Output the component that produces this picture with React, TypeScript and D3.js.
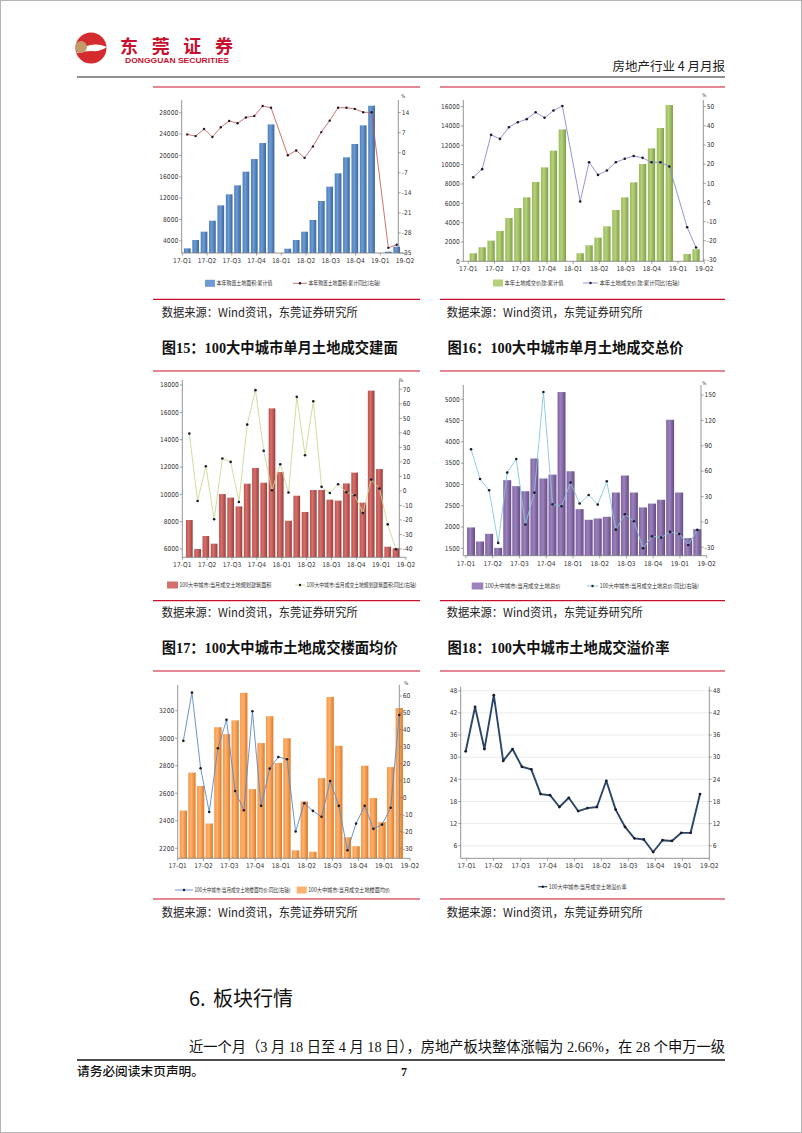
import React from "react";
import * as d3 from "d3";

const W = 802;
const H = 1133;

// months Feb-2017 .. Mar-2019 (Jan values are reported together with Feb)
const months = [
  "2017-02", "2017-03", "2017-04", "2017-05", "2017-06", "2017-07", "2017-08", "2017-09", "2017-10", "2017-11", "2017-12",
  "2018-01", "2018-02", "2018-03", "2018-04", "2018-05", "2018-06", "2018-07", "2018-08", "2018-09", "2018-10", "2018-11", "2018-12",
  "2019-01", "2019-02", "2019-03",
];
const quarterLabels = ["17-Q1", "17-Q2", "17-Q3", "17-Q4", "18-Q1", "18-Q2", "18-Q3", "18-Q4", "19-Q1", "19-Q2"];

// chart A: land purchase area, cumulative (万平方米) and cumulative yoy (%)
const landAreaCum = [2560, 4130, 5690, 7750, 10620, 12690, 14380, 16940, 19310, 22310, 25810, null,
  2500, 4130, 5690, 7880, 11440, 14130, 16630, 19630, 22130, 25630, 29310, null, 1940, 2880];
const landAreaCumYoY = [6.4, 5.8, 8.3, 5.5, 8.9, 11.1, 10.3, 12.3, 12.8, 16.3, 15.7, null,
  -0.9, 0.8, -1.8, 2.2, 7.2, 11.2, 15.7, 15.7, 15.3, 14.1, 14.1, null, -33.2, -32.1];

// chart B: land transaction value, cumulative (亿元) and yoy (%)
const landValueCum = [830, 1450, 2140, 3140, 4480, 5520, 6620, 8210, 9720, 11450, 13650, null,
  830, 1660, 2450, 3620, 5310, 6620, 8170, 10070, 11690, 13790, 16170, null, 760, 1240];
const landValueCumYoY = [13.2, 17.4, 35.3, 33.2, 39.3, 41.9, 43.5, 47.1, 44.2, 48.0, 50.4, null,
  0.5, 21.0, 14.4, 16.7, 21.0, 22.8, 24.3, 23.3, 21.0, 21.0, 18.8, null, -12.9, -23.5];

// chart 15: 100 cities planned floor area and yoy
const plannedArea = [8120, 6000, 6950, 6390, 10020, 9760, 9120, 10780, 11930, 10850, 16290, 11630,
  8070, 9900, 8710, 10320, 10320, 9610, 9540, 10800, 11590, 9390, 17590, 11850, 6170, 6050];
const plannedAreaYoY = [39.5, -6.9, 17.0, -19.5, 22.3, 20.0, -7.6, 45.7, 69.4, 27.6, 0.5, 18.4,
  -1.1, 64.8, 24.6, 61.8, 2.8, -1.4, 4.6, -0.9, -3.0, -15.2, 7.8, 1.6, -23.0, -40.2];

// chart 16: 100 cities total land price and yoy
const totalPrice = [1990, 1660, 1840, 1510, 3100, 2960, 2840, 3610, 3140, 3230, 5170, 3310,
  2420, 2170, 2200, 2240, 2810, 3210, 2810, 2460, 2550, 2640, 4520, 2810, 1740, 1950];
const totalPriceYoY = [85.8, 50.8, 37.4, -24.8, 58.3, 74.4, -3.1, 34.6, 153.5, 20.9, 18.5, 46.5,
  21.7, 31.9, 20.5, 48.0, -9.1, 9.1, 0.8, -31.1, -16.9, -18.5, -11.8, -14.2, -27.2, -9.4];

// chart 17: 100 cities floor price and yoy
const floorPrice = [2474, 2750, 2653, 2380, 3080, 3030, 3130, 3330, 2630, 2965, 3160, 2820,
  3000, 2185, 2540, 2175, 2710, 3300, 2945, 2280, 2215, 2800, 2565, 2390, 2790, 3220];
const floorPriceYoY = [33.5, 62.0, 17.3, -8.5, 29.1, 45.9, 3.9, -7.5, 51.0, -4.9, 17.1, 24.0,
  22.6, -20.1, -3.3, -7.9, -11.4, 9.8, -4.9, -31.1, -15.4, -4.9, -18.5, -16.0, -6.0, 48.8];

// chart 18: 100 cities land premium rate (%)
const premiumRate = [31.6, 43.6, 32.2, 46.8, 29.0, 32.2, 27.4, 26.7, 20.0, 19.7, 16.5, 19.0,
  15.4, 16.2, 16.5, 23.6, 15.8, 11.1, 8.0, 7.7, 4.3, 7.5, 7.3, 9.5, 9.5, 20.0];

const AX_FONT = "'Liberation Sans Narrow','DejaVu Sans Condensed','Liberation Sans',sans-serif";
const CJK = "'Noto Sans CJK SC','Noto Sans',sans-serif";
const SERIF_CJK = "'Liberation Serif','Noto Sans CJK SC',serif";
const RED = "#c8102e";

type Legend = { kind: "bar" | "line"; x: number; sw: number; text: string; width: number };

type Spec = {
  id: string;
  axisL: number; axisR: number; top: number; bottom: number;
  bandL: number; bandR: number; pad: number;
  labelL: number; labelR: number;
  leftDomain: [number, number]; leftTicks: number[];
  rightDomain: [number, number]; rightTicks: number[];
  bars?: (number | null)[]; barColors?: [string, string, string];
  line: (number | null)[]; lineColor: string; lineWidth: number; lineAxis: "left" | "right";
  marker: number;
  percent?: [number, number];
  grid?: boolean;
  legendY: number; legend: Legend[];
};

function Combo({ s }: { s: Spec }) {
  const idx = d3.range(months.length);
  const x = d3.scaleBand<number>().domain(idx).range([s.bandL, s.bandR]).paddingInner(s.pad).paddingOuter(s.pad / 2);
  const cx = (i: number) => (x(i) ?? 0) + x.bandwidth() / 2;
  const q = d3.scalePoint<string>().domain(quarterLabels).range([s.labelL, s.labelR]);
  const yL = d3.scaleLinear().domain(s.leftDomain).range([s.bottom, s.top]);
  const yR = d3.scaleLinear().domain(s.rightDomain).range([s.bottom, s.top]);
  const yLine = s.lineAxis === "left" ? yL : yR;
  const pts = idx
    .filter((i) => s.line[i] != null)
    .map((i) => [cx(i), yLine(s.line[i] as number)] as [number, number]);
  const path = d3.line()(pts) ?? "";
  const gid = `grad-${s.id}`;
  const axisColor = "#7a7a7a";

  return (
    <g>
      {s.barColors && (
        <defs>
          <linearGradient id={gid} x1="0" x2="1" y1="0" y2="0">
            <stop offset="0" stopColor={s.barColors[0]} />
            <stop offset="0.4" stopColor={s.barColors[1]} />
            <stop offset="1" stopColor={s.barColors[2]} />
          </linearGradient>
        </defs>
      )}
      {s.grid &&
        s.leftTicks.map((t) => (
          <line key={`g${t}`} x1={s.axisL} x2={s.axisR} y1={yL(t)} y2={yL(t)} stroke="#e6e6e6" strokeWidth={0.8} />
        ))}
      {s.bars &&
        idx.map((i) =>
          s.bars![i] == null ? null : (
            <rect
              key={`b${i}`}
              x={x(i)}
              width={x.bandwidth()}
              y={yL(s.bars![i] as number)}
              height={s.bottom - yL(s.bars![i] as number)}
              fill={`url(#${gid})`}
            />
          )
        )}
      {/* left axis */}
      <line x1={s.axisL} x2={s.axisL} y1={s.top} y2={s.bottom} stroke={axisColor} strokeWidth={0.8} />
      {s.leftTicks.map((t) => (
        <g key={`l${t}`}>
          <line x1={s.axisL - 2.5} x2={s.axisL} y1={yL(t)} y2={yL(t)} stroke={axisColor} strokeWidth={0.7} />
          <text x={s.axisL - 3.5} y={yL(t) + 2.3} fontSize={6.6} textAnchor="end" fontFamily={AX_FONT} fill="#333">
            {t}
          </text>
        </g>
      ))}
      {/* right axis */}
      <line x1={s.axisR} x2={s.axisR} y1={s.top} y2={s.bottom} stroke={axisColor} strokeWidth={0.8} />
      {s.rightTicks.map((t) => (
        <g key={`r${t}`}>
          <line x1={s.axisR} x2={s.axisR + 2.5} y1={yR(t)} y2={yR(t)} stroke={axisColor} strokeWidth={0.7} />
          <text x={s.axisR + 3.5} y={yR(t) + 2.3} fontSize={6.6} textAnchor="start" fontFamily={AX_FONT} fill="#333">
            {t}
          </text>
        </g>
      ))}
      {s.percent && (
        <text x={s.percent[0]} y={s.percent[1]} fontSize={5} fontFamily={AX_FONT} fill="#444">
          %
        </text>
      )}
      {/* bottom axis */}
      <line x1={s.axisL} x2={Math.max(s.axisR, s.labelR)} y1={s.bottom} y2={s.bottom} stroke={axisColor} strokeWidth={0.8} />
      {quarterLabels.map((lab) => (
        <g key={lab}>
          <line x1={q(lab)} x2={q(lab)} y1={s.bottom} y2={s.bottom + 2.5} stroke={axisColor} strokeWidth={0.7} />
          <text x={q(lab)} y={s.bottom + 10} fontSize={6.6} textAnchor="middle" fontFamily={AX_FONT} fill="#333">
            {lab}
          </text>
        </g>
      ))}
      {/* line series */}
      <path d={path} fill="none" stroke={s.lineColor} strokeWidth={s.lineWidth} strokeLinejoin="round" />
      {pts.map((p, k) => (
        <circle key={`m${k}`} cx={p[0]} cy={p[1]} r={s.marker} fill="#1c1c2c" />
      ))}
      {/* legend */}
      {s.legend.map((l, k) => (
        <g key={`lg${k}`}>
          {l.kind === "bar" ? (
            <rect x={l.x} y={s.legendY - 3.5} width={l.sw} height={7} fill={s.barColors ? s.barColors[1] : "#888"} />
          ) : (
            <g>
              <line x1={l.x} x2={l.x + l.sw} y1={s.legendY} y2={s.legendY} stroke={s.lineColor} strokeWidth={Math.min(s.lineWidth, 1.2)} />
              <circle cx={l.x + l.sw / 2} cy={s.legendY} r={1.2} fill="#1c1c2c" />
            </g>
          )}
          <text
            x={l.x + l.sw + 1.5}
            y={s.legendY + 2}
            fontSize={5.6}
            fontFamily={CJK}
            fill="#333"
            textLength={l.width}
            lengthAdjust="spacingAndGlyphs"
          >
            {l.text}
          </text>
        </g>
      ))}
    </g>
  );
}

const specs: Spec[] = [
  {
    id: "a", axisL: 181.7, axisR: 398.3, top: 100, bottom: 253,
    bandL: 183.1, bandR: 400.9, pad: 0.2, labelL: 182.3, labelR: 405,
    leftDomain: [1690, 30380], leftTicks: [4000, 8000, 12000, 16000, 20000, 24000, 28000],
    rightDomain: [-35, 18.4], rightTicks: [14, 7, 0, -7, -14, -21, -28, -35],
    bars: landAreaCum, barColors: ["#4a7ebb", "#6e9bd4", "#3a669d"],
    line: landAreaCumYoY, lineColor: "#c0504d", lineWidth: 0.8, lineAxis: "right", marker: 1.2,
    percent: [401, 98],
    legendY: 283.3,
    legend: [
      { kind: "bar", x: 205, sw: 10, text: "本年购置土地面积:累计值", width: 56 },
      { kind: "line", x: 293, sw: 14, text: "本年购置土地面积:累计同比(右轴)", width: 72 },
    ],
  },
  {
    id: "b", axisL: 463.3, axisR: 703.3, top: 100, bottom: 261.3,
    bandL: 468.8, bandR: 700.5, pad: 0.18, labelL: 468.3, labelR: 704.3,
    leftDomain: [0, 16692], leftTicks: [0, 2000, 4000, 6000, 8000, 10000, 12000, 14000, 16000],
    rightDomain: [-30.7, 53.5], rightTicks: [50, 40, 30, 20, 10, 0, -10, -20, -30],
    bars: landValueCum, barColors: ["#9bbb59", "#b4d17c", "#7f9e44"],
    line: landValueCumYoY, lineColor: "#8b89cf", lineWidth: 0.9, lineAxis: "right", marker: 1.3,
    percent: [702, 97],
    legendY: 283,
    legend: [
      { kind: "bar", x: 493, sw: 10, text: "本年土地成交价款:累计值", width: 59 },
      { kind: "line", x: 583, sw: 15, text: "本年土地成交价款:累计同比(右轴)", width: 80 },
    ],
  },
  {
    id: "c", axisL: 182.3, axisR: 399.3, top: 380, bottom: 557.3,
    bandL: 185.2, bandR: 400.1, pad: 0.19, labelL: 182.3, labelR: 406,
    leftDomain: [5393, 18366], leftTicks: [6000, 8000, 10000, 12000, 14000, 16000, 18000],
    rightDomain: [-45.7, 76.4], rightTicks: [70, 60, 50, 40, 30, 20, 10, 0, -10, -20, -30, -40],
    bars: plannedArea, barColors: ["#c0504d", "#d4716d", "#9c3b38"],
    line: plannedAreaYoY, lineColor: "#c9da93", lineWidth: 0.9, lineAxis: "right", marker: 1.3,
    percent: [399, 382],
    legendY: 585,
    legend: [
      { kind: "bar", x: 167, sw: 11, text: "100大中城市:当月成交土地规划建筑面积", width: 92 },
      { kind: "line", x: 295, sw: 10, text: "100大中城市:当月成交土地规划建筑面积:同比(右轴)", width: 110 },
    ],
  },
  {
    id: "d", axisL: 463.3, axisR: 701, top: 385, bottom: 555.7,
    bandL: 466.5, bandR: 701.8, pad: 0.12, labelL: 466, labelR: 706.7,
    leftDomain: [1326, 5336], leftTicks: [1500, 2000, 2500, 3000, 3500, 4000, 4500, 5000],
    rightDomain: [-39.9, 161.8], rightTicks: [150, 120, 90, 60, 30, 0, -30],
    bars: totalPrice, barColors: ["#8064a2", "#9b82bc", "#654c86"],
    line: totalPriceYoY, lineColor: "#86c6dc", lineWidth: 0.9, lineAxis: "right", marker: 1.3,
    percent: [702, 385],
    legendY: 586,
    legend: [
      { kind: "bar", x: 471.7, sw: 11.6, text: "100大中城市:当月成交土地总价", width: 76 },
      { kind: "line", x: 586.7, sw: 11.6, text: "100大中城市:当月成交土地总价:同比(右轴)", width: 99 },
    ],
  },
  {
    id: "e", axisL: 177.7, axisR: 399.3, top: 685, bottom: 858.3,
    bandL: 179, bandR: 403.6, pad: 0.15, labelL: 177.7, labelR: 410,
    leftDomain: [2127, 3387], leftTicks: [2200, 2400, 2600, 2800, 3000, 3200],
    rightDomain: [-35.9, 66.5], rightTicks: [60, 50, 40, 30, 20, 10, 0, -10, -20, -30],
    bars: floorPrice, barColors: ["#f79646", "#fbb26e", "#e07a28"],
    line: floorPriceYoY, lineColor: "#5a8ac6", lineWidth: 0.9, lineAxis: "right", marker: 1.3,
    percent: [404, 685],
    legendY: 890,
    legend: [
      { kind: "line", x: 175, sw: 18, text: "100大中城市:当月成交土地楼面均价:同比(右轴)", width: 96 },
      { kind: "bar", x: 296.7, sw: 10, text: "100大中城市:当月成交土地楼面均价", width: 82 },
    ],
  },
  {
    id: "f", axisL: 460.7, axisR: 709.3, top: 686.7, bottom: 858.3,
    bandL: 461, bandR: 704.7, pad: 0, labelL: 466.7, labelR: 709.3,
    leftDomain: [2.6, 49.1], leftTicks: [6, 12, 18, 24, 30, 36, 42, 48],
    rightDomain: [2.6, 49.1], rightTicks: [6, 12, 18, 24, 30, 36, 42, 48],
    line: premiumRate, lineColor: "#2b4669", lineWidth: 1.9, lineAxis: "left", marker: 1.4,
    grid: true,
    legendY: 886.7,
    legend: [{ kind: "line", x: 538.3, sw: 9, text: "100大中城市:当月成交土地溢价率", width: 78 }],
  },
];

const sourceText = "数据来源：Wind资讯，东莞证券研究所";
const titles = [
  { x: 161.7, y: 353, text: "图15：100大中城市单月土地成交建面", width: 236 },
  { x: 447.5, y: 353, text: "图16：100大中城市单月土地成交总价", width: 236 },
  { x: 161.7, y: 653, text: "图17：100大中城市土地成交楼面均价", width: 236 },
  { x: 447.5, y: 653, text: "图18：100大中城市土地成交溢价率", width: 222 },
];
const rowTops = [87, 371, 671];
const rowBottoms = [299.3, 600.7, 899];
const sourceYs = [317, 617, 917];

export default function App() {
  return (
    <div style={{ position: "absolute", left: 0, top: 0 }}>
      <svg width={W} height={H} viewBox={`0 0 ${W} ${H}`} style={{ display: "block", background: "#fff" }}>
        <rect x={0.5} y={0.5} width={W - 1} height={H - 1} fill="#fff" stroke="#b5b5b5" />
        {/* logo */}
        <g>
          <circle cx={91} cy={48} r={15.5} fill="#d42a30" />
          <path d="M76 53 Q90 40 107 47 Q100 52 92 51 Q84 51 76 53 Z" fill="#fff" />
          <circle cx={81} cy={47} r={6} fill="#c39b6b" />
        </g>
        <text x={120} y={53} fontSize={18} fontWeight={700} fill={RED} fontFamily={CJK} textLength={113} lengthAdjust="spacing">
          东莞证券
        </text>
        <text x={125} y={62.5} fontSize={6.4} fontWeight={700} fill={RED} fontFamily="'Liberation Sans',sans-serif" textLength={104} lengthAdjust="spacingAndGlyphs">
          DONGGUAN SECURITIES
        </text>
        <text x={725} y={71} fontSize={12.5} fill="#222" fontFamily={CJK} textAnchor="end">
          房地产行业 4 月月报
        </text>
        <line x1={77} x2={725} y1={77} y2={77} stroke="#222" strokeWidth={1.2} />

        {/* panel rules, sources, titles */}
        {rowTops.map((y, r) => (
          <g key={`row${r}`}>
            <line x1={153} x2={420} y1={y} y2={y} stroke={RED} strokeWidth={1.2} />
            <line x1={440} x2={725} y1={y} y2={y} stroke={RED} strokeWidth={1.2} />
            <line x1={153} x2={420} y1={rowBottoms[r]} y2={rowBottoms[r]} stroke={RED} strokeWidth={1.2} />
            <line x1={440} x2={725} y1={rowBottoms[r]} y2={rowBottoms[r]} stroke={RED} strokeWidth={1.2} />
            <text x={161.7} y={sourceYs[r]} fontSize={12} fill="#222" fontFamily={CJK} textLength={196} lengthAdjust="spacingAndGlyphs">
              {sourceText}
            </text>
            <text x={446.7} y={sourceYs[r]} fontSize={12} fill="#222" fontFamily={CJK} textLength={196} lengthAdjust="spacingAndGlyphs">
              {sourceText}
            </text>
          </g>
        ))}
        {titles.map((t) => (
          <text key={t.text} x={t.x} y={t.y} fontSize={14.5} fontWeight={700} fill="#111" fontFamily={SERIF_CJK} textLength={t.width} lengthAdjust="spacingAndGlyphs">
            {t.text}
          </text>
        ))}

        {specs.map((s) => (
          <Combo key={s.id} s={s} />
        ))}

        {/* section text */}
        <text x={189} y={1006} fontSize={20} fill="#111" fontFamily={CJK}>
          6.
        </text>
        <text x={213} y={1006} fontSize={20} fill="#111" fontFamily={CJK}>
          板块行情
        </text>
        <text x={189} y={1052} fontSize={14.5} fill="#111" fontFamily={SERIF_CJK} textLength={536} lengthAdjust="spacingAndGlyphs">
          近一个月（3 月 18 日至 4 月 18 日），房地产板块整体涨幅为 2.66%，在 28 个申万一级
        </text>
        <line x1={77} x2={725} y1={1060} y2={1060} stroke="#111" strokeWidth={1.6} />
        <text x={77} y={1076} fontSize={12.5} fontWeight={500} fill="#111" fontFamily={CJK} textLength={127} lengthAdjust="spacingAndGlyphs">
          请务必阅读末页声明。
        </text>
        <text x={404} y={1076} fontSize={12} fontWeight={700} fill="#111" fontFamily={SERIF_CJK} textAnchor="middle">
          7
        </text>
      </svg>
    </div>
  );
}
